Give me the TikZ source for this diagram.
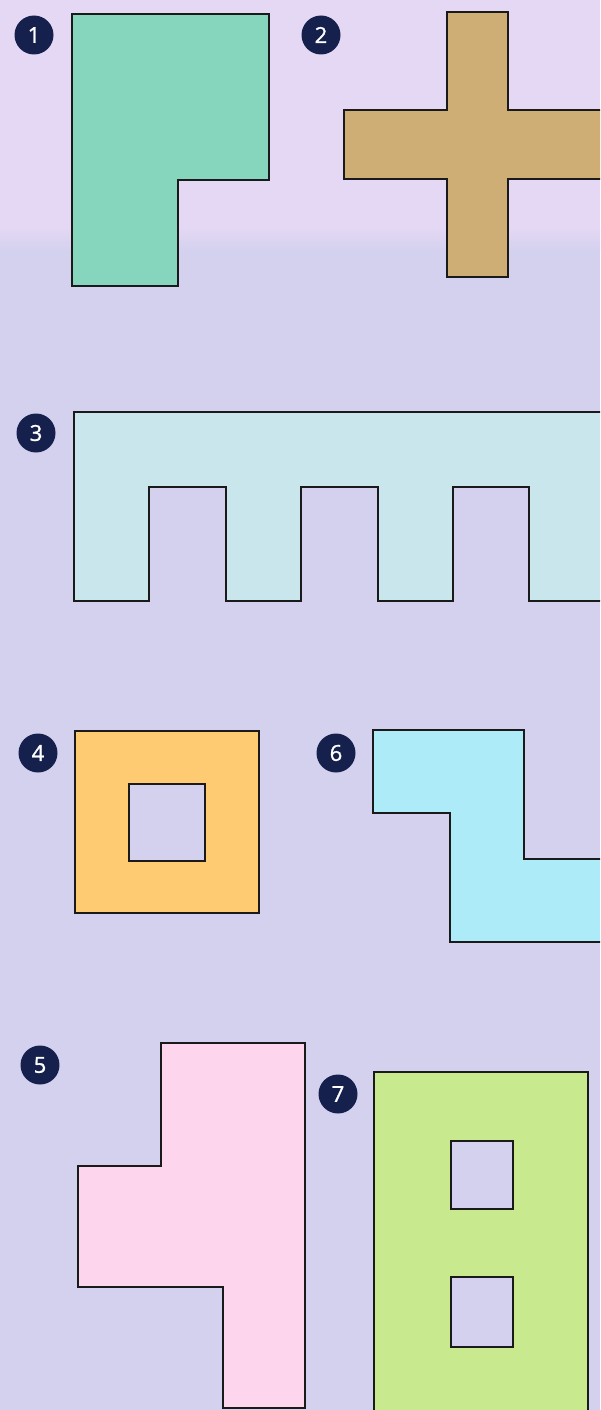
\documentclass[tikz,border=0pt]{standalone}
\usepackage{fontspec}
\setmainfont{Open Sans}
\newfontfamily\badgefont[FakeBold=1.2]{Open Sans}
\definecolor{bgtop}{HTML}{E5D8F4}
\definecolor{bgbot}{HTML}{D4D1EE}
\definecolor{outl}{HTML}{1A1A1A}
\definecolor{navy}{HTML}{15204D}
\definecolor{cone}{HTML}{86D6BE}
\definecolor{ctwo}{HTML}{CFAE75}
\definecolor{cthree}{HTML}{C8E6EC}
\definecolor{cfour}{HTML}{FECB72}
\definecolor{cfive}{HTML}{FDD6EE}
\definecolor{csix}{HTML}{ADEBF9}
\definecolor{cseven}{HTML}{C8E98E}
\begin{document}
\begin{tikzpicture}[x=1pt,y=-1pt,
  piece/.style={draw=outl, line width=2.9pt, line join=miter},
  badge/.style={circle, fill=navy, minimum size=39pt, inner sep=0pt, text=white,
    font=\badgefont\fontsize{22}{22}\selectfont}]
\useasboundingbox (0,0) rectangle (600,1410);
\fill[bgbot] (0,0) rectangle (600,1410);
\fill[bgtop] (0,0) rectangle (600,228);
\shade[top color=bgtop, bottom color=bgbot] (0,227) rectangle (600,250);
\begin{scope}
\clip (0,0) rectangle (600,1410);
% shape 1
\draw[piece, fill=cone] (72,14) -- (269,14) -- (269,180) -- (178,180) -- (178,286) -- (72,286) -- cycle;
% shape 2
\draw[piece, fill=ctwo] (447,12) -- (508,12) -- (508,110) -- (612,110) -- (612,179) -- (508,179)
  -- (508,277) -- (447,277) -- (447,179) -- (344,179) -- (344,110) -- (447,110) -- cycle;
% shape 3
\draw[piece, fill=cthree] (74,412) -- (612,412) -- (612,601) -- (529,601) -- (529,487) -- (453,487)
  -- (453,601) -- (378,601) -- (378,487) -- (301,487) -- (301,601) -- (226,601) -- (226,487)
  -- (149,487) -- (149,601) -- (74,601) -- cycle;
% shape 4
\draw[piece, fill=cfour, even odd rule] (75,731) rectangle (259,913) (129,784) rectangle (205,861);
% shape 6
\draw[piece, fill=csix] (373,730) -- (524,730) -- (524,859) -- (612,859) -- (612,942) -- (450,942)
  -- (450,813) -- (373,813) -- cycle;
% shape 5
\draw[piece, fill=cfive] (161,1043) -- (305,1043) -- (305,1408) -- (223,1408) -- (223,1287)
  -- (78,1287) -- (78,1166) -- (161,1166) -- cycle;
% shape 7
\draw[piece, fill=cseven, even odd rule] (374,1072) rectangle (588,1422)
  (451,1141) rectangle (513,1209) (451,1277) rectangle (513,1347);
\end{scope}
\node[badge] (n1) at (34,35) {1};
\node[badge] (n2) at (321,35) {2};
\node[badge] (n3) at (36,433) {3};
\node[badge] (n4) at (38,753) {4};
\node[badge] (n6) at (336,753) {6};
\node[badge] (n5) at (40,1065) {5};
\node[badge] (n7) at (338,1094) {7};
\end{tikzpicture}
\end{document}
